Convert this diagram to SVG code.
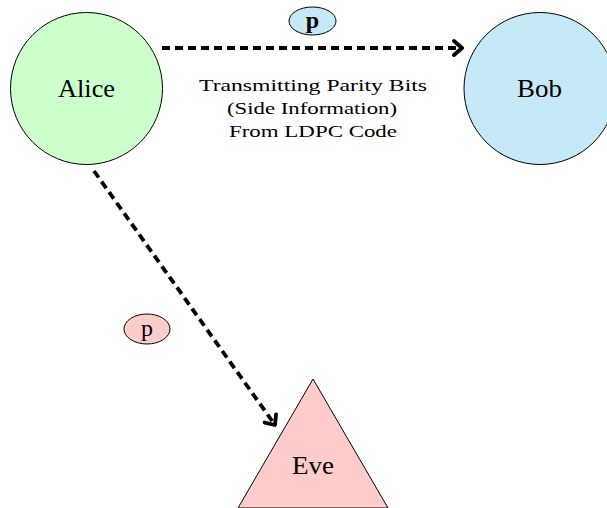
<svg xmlns="http://www.w3.org/2000/svg" width="607" height="508" viewBox="0 0 607 508">
<style>
.node{stroke:#000;stroke-width:1}
.lbl{font-family:"Liberation Serif","DejaVu Serif",serif;fill:#000;text-anchor:middle}
.big{font-size:25px}
.mid{font-size:17px}
.p{font-size:24px;font-weight:bold}
.pr{font-size:24px}
.edge{fill:none;stroke:#000;stroke-width:3.8;stroke-dasharray:8 5}
</style>
<defs>
<marker id="arr" markerUnits="userSpaceOnUse" viewBox="-12 -10 14 20" refX="0" refY="0" markerWidth="14" markerHeight="20" orient="auto">
<path d="M-8,-7 L0,0 L-8,7" fill="none" stroke="#000" stroke-width="3.8" stroke-linecap="round" stroke-linejoin="round"/>
</marker>
</defs>
<g id="connectors">
<line class="edge" x1="162" y1="48" x2="462" y2="48" marker-end="url(#arr)"/>
<line class="edge" x1="94" y1="171" x2="275" y2="425" marker-end="url(#arr)"/>
</g>
<g id="alice">
<circle class="node" cx="86.5" cy="88.5" r="76" fill="#ccffcc"/>
<text class="lbl big" x="86.5" y="97" textLength="57" lengthAdjust="spacingAndGlyphs">Alice</text>
</g>
<g id="bob">
<circle class="node" cx="540" cy="88.5" r="76" fill="#c6e9f8"/>
<text class="lbl big" x="539.5" y="97" textLength="45" lengthAdjust="spacingAndGlyphs">Bob</text>
</g>
<g id="eve">
<polygon class="node" points="313,379 238,508 388,508" fill="#ffcccc"/>
<text class="lbl big" x="313" y="474" textLength="42" lengthAdjust="spacingAndGlyphs">Eve</text>
</g>
<g id="label-text">
<text class="lbl mid" x="313" y="91" textLength="228" lengthAdjust="spacingAndGlyphs">Transmitting Parity Bits</text>
<text class="lbl mid" x="312" y="113.5" textLength="170" lengthAdjust="spacingAndGlyphs">(Side Information)</text>
<text class="lbl mid" x="313" y="136.5" textLength="168" lengthAdjust="spacingAndGlyphs">From LDPC Code</text>
</g>
<g id="p-bob">
<ellipse class="node" cx="312.5" cy="21" rx="23.5" ry="14" fill="#c6e9f8"/>
<text class="lbl p" x="312.5" y="27.5">p</text>
</g>
<g id="p-eve">
<ellipse class="node" cx="147" cy="329" rx="23" ry="15" fill="#ffcccc"/>
<text class="lbl pr" x="147" y="335.5">p</text>
</g>
</svg>
